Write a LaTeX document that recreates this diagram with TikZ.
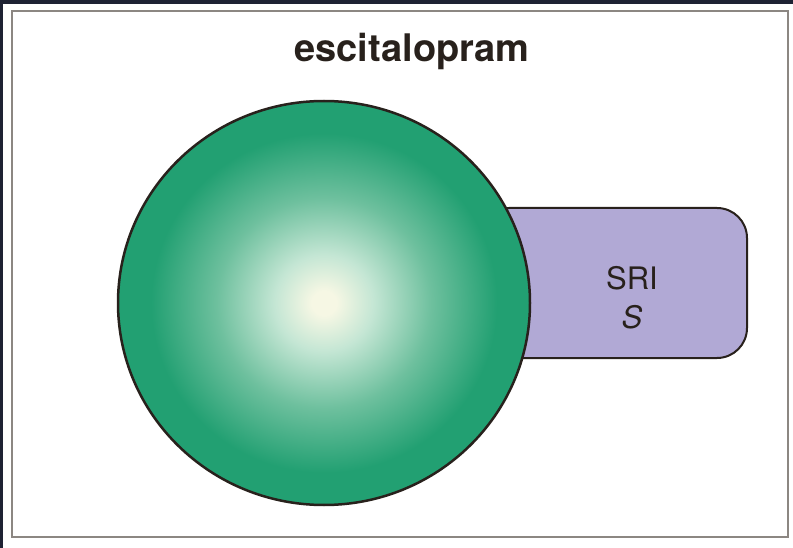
\documentclass[tikz,border=0pt]{standalone}
\usepackage{fontspec}
\setmainfont{TeX Gyre Heros}
\usetikzlibrary{shapes.geometric}

\definecolor{navyband}{RGB}{30,34,51}
\definecolor{framegray}{RGB}{140,135,130}
\definecolor{inkdark}{RGB}{40,33,28}
\definecolor{lavender}{RGB}{177,169,213}
\definecolor{sphcore}{RGB}{246,247,228}
\definecolor{sphlight}{RGB}{196,230,212}
\definecolor{sphmid}{RGB}{110,192,158}
\definecolor{sphdark}{RGB}{34,160,114}

% sphere look: pale centre fading to green at the rim
\pgfdeclareradialshading{sphere}{\pgfpoint{0bp}{0bp}}{%
  color(0bp)=(sphcore); color(1.5bp)=(sphcore); color(6bp)=(sphlight);
  color(13bp)=(sphmid); color(21bp)=(sphdark); color(25bp)=(sphdark);
  color(50bp)=(sphdark)}

\begin{document}
\begin{tikzpicture}[
  x=1pt, y=-1pt,
  frame/.style={draw=framegray, line width=2.5pt},
  receptor/.style={draw=inkdark, line width=2pt, fill=lavender,
                   rounded corners=30pt, minimum width=268pt,
                   minimum height=150pt, inner sep=0pt},
  drug/.style={ellipse, draw=inkdark, line width=2.5pt, shading=sphere,
               minimum width=412pt, minimum height=404pt, inner sep=0pt},
  lbl/.style={text=inkdark, align=center}
]
\useasboundingbox (0,0) rectangle (793,548);
\fill[white] (0,0) rectangle (793,548);
\fill[navyband] (0,0) rectangle (793,4);
\fill[navyband] (0,0) rectangle (2.5,548);
\draw[frame] (12,11) rectangle (788,537);

\node[lbl, anchor=base, font=\bfseries\fontsize{38}{42}\selectfont] (title) at (412,62) {escitalopram};

% transporter box sits behind the drug sphere
\node[receptor] (sri) at (613,283) {};
\node[drug] (escit) at (324,303) {};
\node[lbl, font=\fontsize{31}{39}\selectfont] (sritext) at (632,298) {SRI\\\textit{S}};
\end{tikzpicture}
\end{document}
